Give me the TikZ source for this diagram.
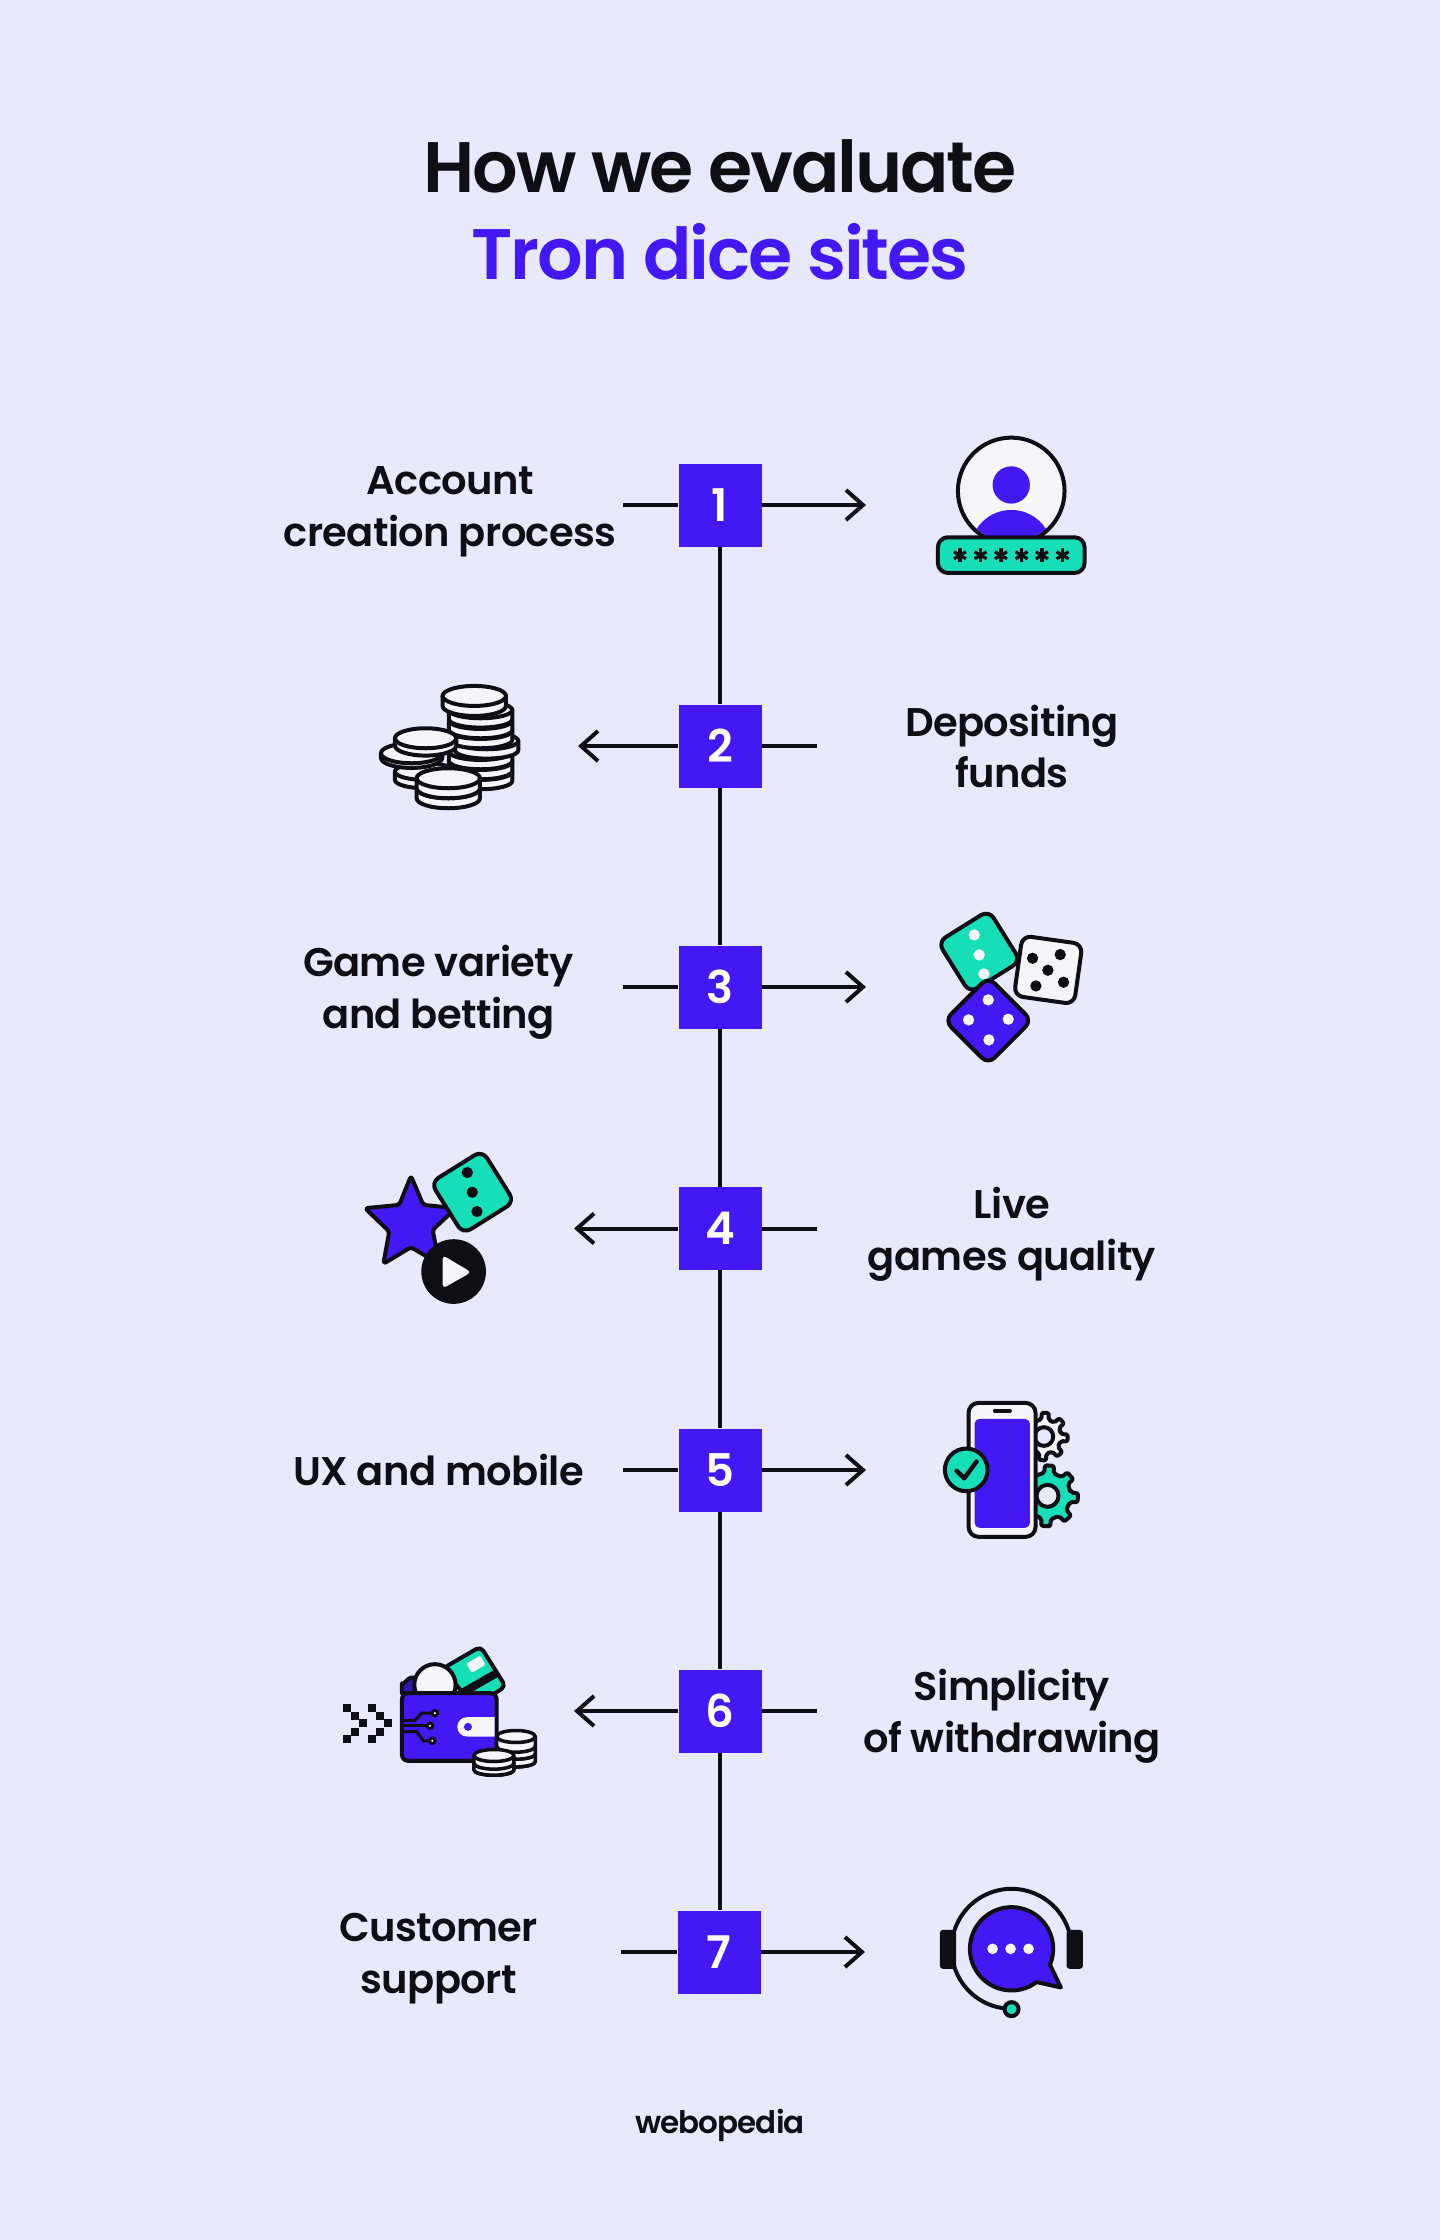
\documentclass[tikz,border=0pt]{standalone}
\usepackage{fontspec}
\usetikzlibrary{arrows.meta}
\setmainfont{Poppins}
\newfontfamily\titlef[LetterSpace=-3]{Poppins SemiBold}
\newfontfamily\labelf[LetterSpace=-1.5]{Poppins SemiBold}
\definecolor{bgc}{HTML}{E8E9FD}
\definecolor{blu}{HTML}{4318F5}
\definecolor{grn}{HTML}{16DEB6}
\definecolor{ink}{HTML}{0E0E14}
\definecolor{wht}{HTML}{F6F6F8}
\newcommand{\ta}{\rule{0pt}{30pt}}
\newcommand{\tb}{\rule[-10pt]{0pt}{10pt}}
\tikzset{
  sq/.style={fill=blu,minimum size=83pt,inner sep=0pt,text=white,font=\titlef\fontsize{45}{45}\selectfont},
  conn/.style={draw=ink,line width=4pt},
  arr/.style={conn,-{Straight Barb[length=17pt,width=30pt,line width=4pt]}},
  lbl/.style={align=center,text=ink,font=\labelf\fontsize{40}{51.6}\selectfont,inner sep=0pt},
  icon/.style={draw=ink,line width=4pt,line join=round}
}
\newcommand{\coinx}[6][4pt]{%
  \draw[icon,line width=#1,fill=wht] (#2-#4,#3) -- (#2-#4,#3+#6) arc[start angle=180,end angle=0,x radius=#4,y radius=#5] -- (#2+#4,#3) -- cycle;
  \draw[icon,line width=#1,fill=wht] (#2,#3) ellipse[x radius=#4,y radius=#5];
}
\newcommand{\diex}[5]{%
  \draw[icon,fill=#5,rounded corners=9pt,shift={(#1,#2)},rotate=#4] ({-#3/2},{-#3/2}) rectangle ({#3/2},{#3/2});
}
\newcommand{\gearx}[6]{% cx cy ro ri hole fill
  \begin{scope}[shift={(#1,#2)}]
  \draw[icon,fill=#6,rounded corners=2pt] (-8:#4) \foreach \a in {0,45,...,315} { -- ({\a-8}:#4) -- ({\a-5}:#3) -- ({\a+12}:#3) -- ({\a+15}:#4) } -- cycle;
  \draw[icon,fill=bgc] (0,0) circle[radius=#5];
  \end{scope}
}
\begin{document}
\begin{tikzpicture}[x=1pt,y=1pt,yscale=-1]
\useasboundingbox (0,0) rectangle (1440,2240);
\fill[bgc] (0,0) rectangle (1440,2240);
% title
\node[text=ink,font=\titlef\fontsize{71.5}{71.5}\selectfont,inner sep=0pt] (t1) at (720,166) {How we evaluate};
\node[text=blu,font=\titlef\fontsize{71.5}{71.5}\selectfont,inner sep=0pt] (t2) at (720,252) {Tron dice sites};
% squares
\node[sq] (s1) at (720,505) {1};
\node[sq] (s2) at (720,746) {2};
\node[sq] (s3) at (720,987) {3};
\node[sq] (s4) at (720,1228.5) {4};
\node[sq] (s5) at (720,1470) {5};
\node[sq] (s6) at (720,1711) {6};
\node[sq] (s7) at (719,1952) {7};
% spine
\foreach \a/\b in {s1/s2,s2/s3,s3/s4,s4/s5,s5/s6,s6/s7} \draw[conn] (\a.south) -- (\a.south |- \b.north);
% stubs
\coordinate (l1) at (623,505); \coordinate (r1) at (866,505);
\coordinate (l3) at (623,987); \coordinate (r3) at (866,987);
\coordinate (l5) at (623,1470); \coordinate (r5) at (866,1470);
\coordinate (l7) at (621,1952); \coordinate (r7) at (865,1952);
\coordinate (r2) at (817,746); \coordinate (l2) at (578,746);
\coordinate (r4) at (817,1228.5); \coordinate (l4) at (574,1228.5);
\coordinate (r6) at (817,1711); \coordinate (l6) at (574,1711);
\foreach \n in {1,3,5,7} { \draw[conn] (l\n) -- (s\n.west); \draw[arr] (s\n.east) -- (r\n); }
\foreach \n in {2,4,6} { \draw[conn] (r\n) -- (s\n.east); \draw[arr] (s\n.west) -- (l\n); }
% labels
\node[lbl] (a1) at (450,510.5) {\ta Account\\creation process\tb};
\node[lbl] (a2) at (1012,751.5) {\ta Depositing\\funds\tb};
\node[lbl] (a3) at (438.6,992.5) {\ta Game variety\\and betting\tb};
\node[lbl] (a4) at (1012,1234) {\ta Live\\games quality\tb};
\node[lbl] (a5) at (438.6,1475) {\ta UX and mobile\tb};
\node[lbl] (a6) at (1012,1716.5) {\ta Simplicity\\of withdrawing\tb};
\node[lbl] (a7) at (438.6,1957.5) {\ta Customer\\support\tb};
\node[text=ink,font=\titlef\fontsize{31}{31}\selectfont,inner sep=0pt] (w) at (720,2125) {webopedia};
% icon 1
\begin{scope}[x=0.3333pt,y=0.3333pt,shift={(2700,1230)}]
\begin{scope}
\draw[icon,fill=wht] (334,243) circle[radius=160];
\clip (334,243) circle[radius=154];
\fill[blu] (334,225) circle[radius=56];
\fill[blu] (334,420) ellipse[x radius=122,y radius=120];
\end{scope}
\draw[icon,fill=grn,rounded corners=10pt] (114,382) rectangle (554,489);
\foreach \x in {180,242,303,365,426,488} {
  \foreach \r in {0,60,120} \draw[draw=ink,line width=3.2pt,shift={(\x,436)},rotate=\r] (0,-21) -- (0,21);
}
\end{scope}
% icon 2
\begin{scope}[x=0.3333pt,y=0.3333pt,shift={(1080,1980)}]
\coinx{362}{335}{95}{25}{28}
\coinx{362}{305}{95}{25}{28}
\coinx{362}{275}{95}{25}{28}
\coinx{380}{243}{95}{25}{28}
\coinx{362}{212}{95}{25}{28}
\coinx{362}{182}{95}{25}{28}
\coinx{362}{150}{95}{25}{28}
\coinx{343}{108}{95}{30}{30}
\coinx{195}{335}{90}{25}{25}
\coinx{155}{280}{92}{30}{14}
\coinx{197}{235}{92}{30}{22}
\coinx{265}{385}{95}{30}{30}
\coinx{265}{355}{95}{30}{30}
\end{scope}
% icon 3
\begin{scope}[x=0.3333pt,y=0.3333pt,shift={(2760,2700)}]
\diex{178}{155}{180}{-32}{grn}
\foreach \p in {(163,105),(178,165),(192,222)} \fill[wht] \p circle[radius=17];
\diex{385}{210}{182}{8}{wht}
\foreach \p in {(338,175),(421,164),(384,211),(348,258),(431,247)} \fill[ink] \p circle[radius=17];
\diex{205}{362}{185}{45}{blu}
\foreach \p in {(205,300),(265,358),(207,420),(146,360)} \fill[wht] \p circle[radius=17];
\end{scope}
% icon 4
\begin{scope}[x=0.3333pt,y=0.3333pt,shift={(1050,3420)}]
\draw[icon,fill=blu,rounded corners=3pt] (183,108) -- (220,195) -- (318,205) -- (248,270) -- (268,372) -- (183,322) -- (100,372) -- (118,275) -- (45,205) -- (148,195) -- cycle;
\diex{368}{157}{182}{-32}{grn}
\foreach \p in {(352,98),(367,157),(381,215)} \fill[ink] \p circle[radius=17];
\fill[ink] (311,395) circle[radius=97];
\fill[wht,rounded corners=4pt] (278,346) -- (364,397) -- (278,446) -- cycle;
\end{scope}
% icon 5
\begin{scope}[x=0.3333pt,y=0.3333pt,shift={(2790,4170)}]
\gearx{342}{140}{72}{52}{28}{wht}
\gearx{353}{318}{92}{70}{33}{grn}
\draw[icon,fill=wht,rounded corners=10pt] (116,39) rectangle (317,441);
\fill[blu,rounded corners=5pt] (134,87) rectangle (300,414);
\draw[icon,line cap=round] (195,63) -- (240,63);
\draw[icon,fill=grn] (109,240) circle[radius=64];
\draw[icon,line cap=round,line width=4.5pt] (80,243) -- (103,265) -- (140,215);
\end{scope}
% icon 6
\begin{scope}[x=0.3333pt,y=0.3333pt,shift={(990,4905)}]
\foreach \dx in {0,74} \foreach \p/\q in {51/218,75/242,99/265,75/290,51/313} \fill[ink] ({\p+\dx-12},{\q-12}) rectangle ({\p+\dx+12},{\q+12});
\draw[icon,fill=grn,rounded corners=5pt] (340,100) -- (452,35) -- (527,155) -- (430,215) -- cycle;
\draw[draw=ink,line width=8pt] (395,175) -- (505,112);
\fill[wht,shift={(438,88)},rotate=-30,rounded corners=2pt] (-24,-16) rectangle (24,16);
\draw[icon,fill=blu!70!ink] (216,175) -- (216,145) to[out=90,in=180] (245,128) -- (270,128) -- (270,175) -- cycle;
\draw[icon,fill=wht] (315,150) circle[radius=62];
\draw[icon,fill=blu,rounded corners=6pt] (216,175) rectangle (500,378);
\fill[wht] (411,247) arc[start angle=270,end angle=90,radius=29] -- (494,305) -- (494,247) -- cycle;
\fill[blu] (414,276) circle[radius=12];
\draw[draw=ink,line width=3pt] (216,257) -- (255,257) -- (275,235) -- (315,235);
\draw[draw=ink,line width=3pt] (216,273) -- (300,273);
\draw[draw=ink,line width=3pt] (216,290) -- (260,290) -- (280,318) -- (307,318);
\foreach \p in {(315,235),(300,273),(307,318)} { \fill[ink] \p circle[radius=13]; \fill[wht] \p circle[radius=3.5]; }
\coinx[3.5pt]{558}{380}{58}{16}{0}
\coinx[3.5pt]{558}{357}{58}{16}{23}
\coinx[3.5pt]{558}{334}{58}{16}{23}
\coinx[3.5pt]{558}{305}{58}{18}{29}
\coinx[3.5pt]{492}{405}{60}{16}{0}
\coinx[3.5pt]{492}{385}{60}{16}{20}
\coinx[3.5pt]{492}{362}{60}{18}{23}
\end{scope}
% icon 7
\begin{scope}[x=0.3333pt,y=0.3333pt,shift={(2775,5625)}]
\draw[icon,line cap=round] (260,222) ++(-18:180) arc[start angle=-18,end angle=-162,radius=180];
\draw[icon] (260,222) ++(180:180) arc[start angle=180,end angle=98,radius=180];
\fill[ink,rounded corners=3pt] (45,165) rectangle (94,282);
\fill[ink,rounded corners=3pt] (425,165) rectangle (474,282);
\draw[icon,fill=grn] (260,403) circle[radius=21];
\draw[icon,fill=blu] (260,222) ++(53:125) arc[start angle=53,end angle=382.6,radius=125] -- (408,338) -- cycle;
\foreach \x in {203,257,311} \fill[wht] (\x,222) circle[radius=16];
\end{scope}
\end{tikzpicture}
\end{document}
